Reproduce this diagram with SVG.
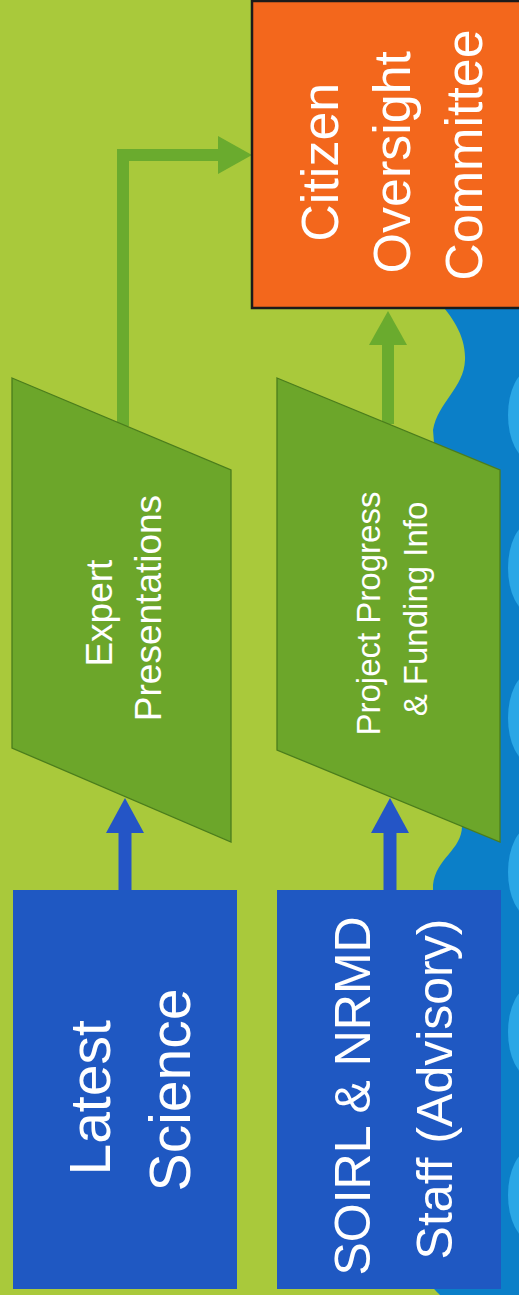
<svg xmlns="http://www.w3.org/2000/svg" width="519" height="1295" viewBox="0 0 519 1295">
  <style>
    .bg { fill: #a9c93b; }
    .band { fill: #0b7fc8; }
    .bump { fill: #2ba7e6; }
    .para { fill: #6ca62a; stroke: #4b7d1c; stroke-width: 1.3; }
    .bluebox { fill: #1f58c2; }
    .orange { fill: #f3671c; stroke: #1b1b1b; stroke-width: 2.5; }
    .lbl { fill: #ffffff; font-family: "Liberation Sans", Arial, sans-serif; text-anchor: middle; }
    .garrow { fill: none; stroke: #6aab2e; stroke-width: 12; stroke-linejoin: miter; }
    .barrow { fill: none; stroke: #2455c6; stroke-width: 13; }
  </style>
  <defs>
    <marker id="headG" markerUnits="userSpaceOnUse" markerWidth="36" markerHeight="38" refX="0" refY="19" orient="auto">
      <path d="M0,0 L34,19 L0,38 Z" fill="#6aab2e"/>
    </marker>
    <marker id="headB" markerUnits="userSpaceOnUse" markerWidth="36" markerHeight="38" refX="0" refY="19" orient="auto">
      <path d="M0,0 L35,19 L0,38 Z" fill="#2455c6"/>
    </marker>
  </defs>

  <g id="background">
    <rect class="bg" x="0" y="0" width="519" height="1295"/>
    <path class="band" d="M437,300 C452,316 466,336 465,360 C464,388 438,402 433,430 L462,800 L462,826 C462,850 436,858 433,885 L433,1288 C436,1291 438,1293 440,1295 L519,1295 L519,300 Z"/>
    <ellipse class="bump" cx="531" cy="415" rx="23" ry="45"/>
    <ellipse class="bump" cx="531" cy="568" rx="23" ry="45"/>
    <ellipse class="bump" cx="531" cy="718" rx="23" ry="45"/>
    <ellipse class="bump" cx="531" cy="872" rx="23" ry="45"/>
    <ellipse class="bump" cx="531" cy="1032" rx="23" ry="45"/>
    <ellipse class="bump" cx="531" cy="1195" rx="23" ry="45"/>
  </g>

  <g id="connectors">
    <polyline class="garrow" points="123,426 123,155 218,155" marker-end="url(#headG)"/>
    <line class="garrow" x1="388" y1="424" x2="388" y2="345" marker-end="url(#headG)"/>
    <line class="barrow" x1="125" y1="891" x2="125" y2="833" marker-end="url(#headB)"/>
    <line class="barrow" x1="390" y1="891" x2="390" y2="833" marker-end="url(#headB)"/>
  </g>

  <g id="citizen-oversight-committee">
    <rect class="orange" x="252" y="1" width="280" height="307"/>
    <text class="lbl" font-size="52" transform="translate(0,155) rotate(-90)">
      <tspan x="0" y="338">Citizen</tspan>
      <tspan x="0" y="410">Oversight</tspan>
      <tspan x="0" y="482">Committee</tspan>
    </text>
  </g>

  <g id="expert-presentations">
    <polygon class="para" points="12,378 231,470 231,842 12,748"/>
    <text class="lbl" font-size="37" transform="translate(0,608) rotate(-90)">
      <tspan x="0" y="112">Expert</tspan>
      <tspan x="0" y="161">Presentations</tspan>
    </text>
  </g>

  <g id="project-progress">
    <polygon class="para" points="277,378 500,470 500,842 277,750"/>
    <text class="lbl" font-size="33" transform="translate(0,609) rotate(-90)">
      <tspan x="0" y="380">Project Progress</tspan>
      <tspan x="0" y="427">&amp; Funding Info</tspan>
    </text>
  </g>

  <g id="latest-science">
    <rect class="bluebox" x="13" y="890" width="224" height="399"/>
    <text class="lbl" font-size="57" transform="translate(0,1090) rotate(-90)">
      <tspan x="0" y="110">Latest</tspan>
      <tspan x="0" y="190">Science</tspan>
    </text>
  </g>

  <g id="soirl-nrmd-staff">
    <rect class="bluebox" x="277" y="890" width="224" height="399"/>
    <text class="lbl" font-size="50" transform="translate(0,1089) rotate(-90)">
      <tspan x="0" y="370">SOIRL &amp; NRMD</tspan>
      <tspan x="0" y="452">Staff (Advisory)</tspan>
    </text>
  </g>
</svg>
